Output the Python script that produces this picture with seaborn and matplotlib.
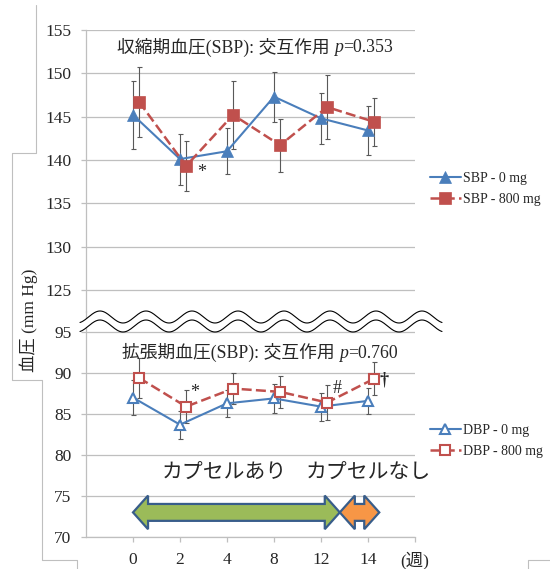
import numpy as np
import matplotlib
matplotlib.use('Agg')
import matplotlib.pyplot as plt
import seaborn as sns
from matplotlib.patches import Polygon
from matplotlib.lines import Line2D
from matplotlib.offsetbox import TextArea, HPacker, AnchoredOffsetbox

# データ (週ごとの平均値と標準誤差)
weeks = ['0', '2', '4', '8', '12', '14']
week_unit = '(週)'

sbp_0mg = [145.2, 140.1, 141.0, 147.3, 144.8, 143.4]
sbp_0mg_err = [3.9, 2.95, 2.65, 2.9, 2.95, 2.8]
sbp_800mg = [146.7, 139.3, 145.2, 141.7, 146.1, 144.4]
sbp_800mg_err = [4.0, 2.9, 3.95, 3.05, 3.7, 2.75]

dbp_0mg = [87.0, 83.7, 86.3, 86.9, 85.9, 86.6]
dbp_0mg_err = [2.1, 1.7, 1.65, 1.8, 1.7, 1.6]
dbp_800mg = [89.4, 85.9, 88.1, 87.7, 86.4, 89.3]
dbp_800mg_err = [2.4, 2.05, 1.9, 1.95, 2.15, 2.0]

sbp_p = '0.353'
dbp_p = '0.760'

phase_labels = ['カプセルあり', 'カプセルなし']
phase_start = [0, 4.4]
phase_end = [4.4, 5.24]
phase_colors = ['#9bbb59', '#f79646']

BLUE = '#4a7ebb'
RED = '#c0504d'
GRID = '#bfbfbf'
SERIF = ['Liberation Serif', 'Noto Sans CJK JP']

sns.set_style('white')
plt.rcParams['font.family'] = SERIF

fig = plt.figure(figsize=(5.5, 5.69), dpi=100)
W, H = 550, 569

def fig_box(x0, y0, x1, y1):
    return [x0 / W, 1 - y1 / H, (x1 - x0) / W, (y1 - y0) / H]

ax_top = fig.add_axes(fig_box(86, 30, 415, 311.5))
ax_bot = fig.add_axes(fig_box(86, 311.5, 415, 537), sharex=ax_top)

pos = np.arange(len(weeks))
shift = 0.13


def draw_series(ax, y, err, color, marker, filled, dashed, x):
    ax.errorbar(x, y, yerr=err, fmt='none', ecolor='#595959', elinewidth=0.8,
                capsize=1.8, capthick=0.8, zorder=1.5)
    sns.lineplot(
        x=x, y=y, ax=ax,
        color=color,
        linewidth=1.8 if dashed else 1.5,
        linestyle=(0, (4, 1.7)) if dashed else '-',
        marker=marker,
        markersize=8.5 if filled else 7.5,
        markerfacecolor=color if filled else 'white',
        markeredgecolor=color,
        markeredgewidth=0.5 if filled else 1.5,
        zorder=3,
    )


draw_series(ax_top, sbp_0mg, sbp_0mg_err, BLUE, '^', True, False, pos)
draw_series(ax_top, sbp_800mg, sbp_800mg_err, RED, 's', True, True, pos + shift)
draw_series(ax_bot, dbp_0mg, dbp_0mg_err, BLUE, '^', False, False, pos)
draw_series(ax_bot, dbp_800mg, dbp_800mg_err, RED, 's', False, True, pos + shift)

# 有意差マーク
ax_top.annotate('*', (1 + shift, sbp_800mg[1]), xytext=(11, -5), textcoords='offset points',
                ha='center', va='center', fontsize=13)
ax_bot.annotate('*', (1 + shift, dbp_800mg[1]), xytext=(6, 10), textcoords='offset points',
                ha='center', va='center', fontsize=13)
ax_bot.annotate('#', (4 + shift, dbp_800mg[4]), xytext=(7, 10), textcoords='offset points',
                ha='center', va='center', fontsize=13)
ax_bot.annotate('†', (5 + shift, dbp_800mg[5]), xytext=(7, -1), textcoords='offset points',
                ha='center', va='center', fontsize=13, fontweight='bold')

# 軸の設定
ax_top.set_ylim(122.5, 155)
ax_top.set_yticks(np.arange(125, 156, 5))
ax_bot.set_ylim(70, 97.5)
ax_bot.set_yticks(np.arange(70, 96, 5))
ax_bot.set_xlim(-1, 6)
ax_bot.set_xticks(list(range(len(weeks) + 1)))
ax_bot.set_xticklabels(weeks + [week_unit])

for ax in (ax_top, ax_bot):
    ax.set_xlabel('')
    ax.set_ylabel('')
    ax.yaxis.grid(True, color=GRID, linewidth=0.9)
    ax.xaxis.grid(False)
    for s in ('top', 'right', 'bottom'):
        ax.spines[s].set_visible(False)
    ax.spines['left'].set_color(GRID)
    ax.spines['left'].set_linewidth(0.9)
    ax.tick_params(axis='y', left=True, length=3.6, width=0.9, color=GRID,
                   labelsize=12.5, pad=7)
    ax.set_facecolor('none')

ax_top.tick_params(axis='x', bottom=False, labelbottom=False)
ax_bot.spines['bottom'].set_visible(True)
ax_bot.spines['bottom'].set_color(GRID)
ax_bot.spines['bottom'].set_linewidth(0.9)
ax_bot.tick_params(axis='x', bottom=True, length=3.6, width=0.9, color=GRID,
                   labelsize=12.5, pad=7)

# タイトル (p はイタリック)
def add_title(label, pval, xf, yf):
    size = 12.8
    parts = [
        TextArea(label, textprops=dict(family=SERIF, size=size)),
        TextArea('p', textprops=dict(family='Liberation Serif', style='italic', size=size)),
        TextArea('=' + pval, textprops=dict(family='Liberation Serif', size=size)),
    ]
    box = HPacker(children=parts, align='baseline', pad=0, sep=0)
    anch = AnchoredOffsetbox(loc='center', child=box, bbox_to_anchor=(xf, yf),
                             bbox_transform=fig.transFigure, frameon=False,
                             pad=0, borderpad=0)
    fig.add_artist(anch)


add_title('収縮期血圧(SBP): 交互作用 ', sbp_p, 255 / W, 1 - 47 / H)
add_title('拡張期血圧(SBP): 交互作用 ', dbp_p, 260 / W, 1 - 352 / H)

# カプセル期間の矢印
def double_arrow(x0, x1, yc, h, hh, hl):
    return [(x0, yc), (x0 + hl, yc + hh), (x0 + hl, yc + h), (x1 - hl, yc + h),
            (x1 - hl, yc + hh), (x1, yc), (x1 - hl, yc - hh), (x1 - hl, yc - h),
            (x0 + hl, yc - h), (x0 + hl, yc - hh)]


for x0, x1, c in zip(phase_start, phase_end, phase_colors):
    poly = Polygon(double_arrow(x0, x1, 73.0, 1.03, 2.05, 0.32), closed=True,
                   facecolor=c, edgecolor='#385d8a', linewidth=1.6,
                   joinstyle='miter', zorder=4)
    ax_bot.add_patch(poly)

ax_bot.text(1.94, 77.9, phase_labels[0], family='Noto Sans CJK JP', fontsize=15,
            ha='center', va='center')
ax_bot.text(5.0, 77.9, phase_labels[1], family='Noto Sans CJK JP', fontsize=15,
            ha='center', va='center')

# 凡例
def legend_handle(color, marker, filled, dashed):
    return Line2D([], [], color=color, linewidth=1.8 if dashed else 1.5,
                  linestyle=(0, (4, 1.7)) if dashed else '-', marker=marker,
                  markersize=8 if filled else 7,
                  markerfacecolor=color if filled else 'white',
                  markeredgecolor=color, markeredgewidth=0.5 if filled else 1.5)


leg_kw = dict(loc='center left', frameon=False, borderpad=0, borderaxespad=0,
              handlelength=2.2, handletextpad=0.2, labelspacing=0.55,
              prop=dict(family='Liberation Serif', size=10))
leg1 = fig.legend([legend_handle(BLUE, '^', True, False), legend_handle(RED, 's', True, True)],
                  ['SBP - 0 mg', 'SBP - 800 mg'], bbox_to_anchor=(430 / W, 1 - 189 / H), **leg_kw)
leg2 = fig.legend([legend_handle(BLUE, '^', False, False), legend_handle(RED, 's', False, True)],
                  ['DBP - 0 mg', 'DBP - 800 mg'], bbox_to_anchor=(430 / W, 1 - 441 / H), **leg_kw)

# 縦軸ラベル
fig.text(29 / W, 1 - 320 / H, '血圧 (mm Hg)', rotation=90, family=SERIF, fontsize=12.5,
         ha='center', va='center')

# 軸の省略記号 (波線)
xs = np.linspace(80, 442, 500)
wave1 = 317 - 6 * np.cos(2 * np.pi * (xs - 100) / 46)
wave2 = 326 - 6 * np.cos(2 * np.pi * (xs - 100) / 46)
fill = Polygon(np.column_stack([np.r_[xs, xs[::-1]] / W, 1 - np.r_[wave1, wave2[::-1]] / H]),
               closed=True, facecolor='white', edgecolor='none',
               transform=fig.transFigure, zorder=5)
fig.add_artist(fill)
for wv in (wave1, wave2):
    fig.add_artist(Line2D(xs / W, 1 - wv / H, color='black', linewidth=0.8,
                          transform=fig.transFigure, zorder=6))

# スライドの枠線
frame_lines = [
    [(36, 5), (36, 153), (12, 153), (12, 380), (42, 380), (42, 560), (77, 560), (77, 569)],
    [(528, 569), (528, 560), (550, 560)],
]
for seg in frame_lines:
    px = np.array(seg, dtype=float)
    fig.add_artist(Line2D(px[:, 0] / W, 1 - px[:, 1] / H, color=GRID, linewidth=0.8,
                          transform=fig.transFigure))

fig.savefig('out.png', dpi=100)
